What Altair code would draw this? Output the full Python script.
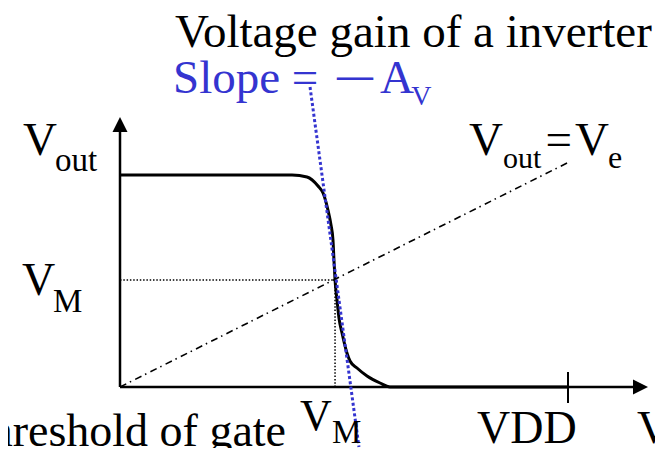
import altair as alt
import pandas as pd

# ---- data (volts; VDD = 5) ----
curve_vin = [0, 1.920, 2.087, 2.210, 2.266, 2.321, 2.355, 2.377, 2.388, 2.400,
             2.422, 2.444, 2.478, 2.533, 2.567, 2.645, 2.757, 2.902, 3.013, 5.0]
curve_vout = [4.732, 4.732, 4.688, 4.487, 4.330, 3.951, 3.616, 3.281, 2.835, 2.388,
              1.942, 1.540, 1.205, 0.759, 0.580, 0.424, 0.246, 0.089, 0.0, 0.0]

VM = 2.40
VDD = 5.0

# axis segments (x, y, x2, y2)
axis_x = [0, 0]
axis_y = [0, 0]
axis_x2 = [0, 5.75]
axis_y2 = [5.80, 0]

tick_x = [VDD]
tick_y = [0.335]
tick_y2 = [-0.357]

# arrow heads
arrow_x = [0, 5.809]
arrow_y = [5.859, 0]
arrow_shape = ["M0,-1L1,1L-1,1Z", "M1,0L-1,-1L-1,1Z"]

# VM guide lines (dotted)
vm_x = [0, VM]
vm_y = [2.388, 0]
vm_x2 = [VM, VM]
vm_y2 = [2.388, 2.388]

# Vout = Vin line
id_x = [0]
id_y = [0]
id_x2 = [4.99]
id_y2 = [5.0]

# tangent with slope -Av
tan_x = [2.121]
tan_y = [6.696]
tan_x2 = [2.667]
tan_y2 = [-1.339]

BLUE = "#3434d0"

# text labels (left aligned)
txt_label = ["Voltage gain of a inverter", "Slope =", "A", "V",
             "V", "out", "V", "M",
             "V", "out", "=", "V", "e",
             "V", "M", "VDD", "V"]
txt_x = [0.614, 0.592, 2.902, 3.250,
         -1.083, -0.725, -1.094, -0.748,
         3.895, 4.275, 4.750, 5.078, 5.446,
         2.009, 2.366, 3.984, 5.770]
txt_y = [7.589, 6.5625, 6.5625, 6.295,
         5.179, 4.821, 2.054, 1.674,
         5.179, 4.888, 5.179, 5.179, 4.888,
         -0.960, -1.250, -1.250, -1.250]
txt_size = [47, 47, 47, 28,
            47, 33, 46, 33,
            47, 30, 47, 47, 32,
            44, 33, 46, 46]
txt_color = ["black", BLUE, BLUE, BLUE,
             "black", "black", "black", "black",
             "black", "black", "black", "black", "black",
             "black", "black", "black", "black"]

# the bold dash of "- A_V"
dash_label = ["\u2014"]
dash_x = [2.422]
dash_y = [6.696]
dash_size = [36]

# right-aligned text
rtxt_label = ["Threshold of gate"]
rtxt_x = [1.853]
rtxt_y = [-1.317]
rtxt_size = [46]

# ---- chart ----
FONT = "Liberation Serif"
W, H = 647, 440
xs = alt.Scale(domain=[-112 / 89.6, (W - 112) / 89.6], zero=False, nice=False)
ys = alt.Scale(domain=[(379 - H) / 44.8, 379 / 44.8], zero=False, nice=False)


def seg_layer(xa, ya, xb, yb, **mk):
    df = pd.DataFrame({"x": xa, "y": ya, "x2": xb, "y2": yb})
    return alt.Chart(df).mark_rule(**mk).encode(
        x=alt.X("x:Q", scale=xs, axis=None),
        y=alt.Y("y:Q", scale=ys, axis=None),
        x2="x2:Q",
        y2="y2:Q",
    )


axes = seg_layer(axis_x, axis_y, axis_x2, axis_y2, color="black", strokeWidth=2.5)
tick = seg_layer(tick_x, tick_y, tick_x, tick_y2, color="black", strokeWidth=2)
vm_lines = seg_layer(vm_x, vm_y, vm_x2, vm_y2, color="black", strokeWidth=1.5,
                     strokeDash=[1.5, 1.8])
id_line = seg_layer(id_x, id_y, id_x2, id_y2, color="black", strokeWidth=1.6,
                    strokeDash=[7, 4, 1.5, 4.5])
tangent = seg_layer(tan_x, tan_y, tan_x2, tan_y2, color=BLUE, strokeWidth=3,
                    strokeDash=[3, 2.4])

arrows = alt.Chart(pd.DataFrame({"x": arrow_x, "y": arrow_y, "s": arrow_shape})).mark_point(
    filled=True, color="black", opacity=1, size=225, strokeWidth=0
).encode(
    x=alt.X("x:Q", scale=xs, axis=None),
    y=alt.Y("y:Q", scale=ys, axis=None),
    shape=alt.Shape("s:N", scale=None, legend=None),
)

curve = alt.Chart(pd.DataFrame({"vin": curve_vin, "vout": curve_vout})).mark_line(
    color="black", strokeWidth=3, interpolate="monotone"
).encode(
    x=alt.X("vin:Q", scale=xs, axis=None),
    y=alt.Y("vout:Q", scale=ys, axis=None),
    order=alt.Order("vin:Q"),
)

texts = alt.Chart(pd.DataFrame({"x": txt_x, "y": txt_y, "t": txt_label,
                                "s": txt_size, "c": txt_color})).mark_text(
    font=FONT, align="left", baseline="alphabetic"
).encode(
    x=alt.X("x:Q", scale=xs, axis=None),
    y=alt.Y("y:Q", scale=ys, axis=None),
    text="t:N",
    size=alt.Size("s:Q", scale=None, legend=None),
    color=alt.Color("c:N", scale=None, legend=None),
)

dash = alt.Chart(pd.DataFrame({"x": dash_x, "y": dash_y, "t": dash_label,
                               "s": dash_size})).mark_text(
    font=FONT, align="left", baseline="alphabetic", color=BLUE, fontWeight="bold"
).encode(
    x=alt.X("x:Q", scale=xs, axis=None),
    y=alt.Y("y:Q", scale=ys, axis=None),
    text="t:N",
    size=alt.Size("s:Q", scale=None, legend=None),
)

rtexts = alt.Chart(pd.DataFrame({"x": rtxt_x, "y": rtxt_y, "t": rtxt_label,
                                 "s": rtxt_size})).mark_text(
    font=FONT, align="right", baseline="alphabetic", color="black"
).encode(
    x=alt.X("x:Q", scale=xs, axis=None),
    y=alt.Y("y:Q", scale=ys, axis=None),
    text="t:N",
    size=alt.Size("s:Q", scale=None, legend=None),
)

chart = alt.layer(
    axes, tick, vm_lines, id_line, curve, tangent, arrows, texts, dash, rtexts
).properties(
    width=W, height=H, padding=0, autosize=alt.AutoSizeParams(type="none"),
    background="white"
).configure_view(stroke=None)

chart.save("out.html", embed_options={"renderer": "svg", "actions": False})
